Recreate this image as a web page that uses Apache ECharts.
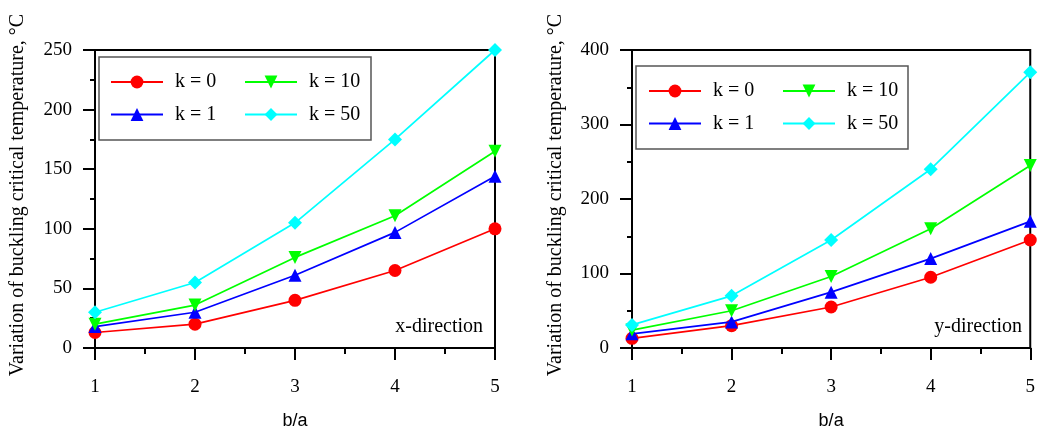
<!DOCTYPE html>
<html>
<head>
<meta charset="utf-8">
<script src="https://cdn.jsdelivr.net/npm/echarts@6/dist/echarts.min.js"></script>
<style>html,body{margin:0;padding:0;background:#fff}#c{width:1038px;height:436px}</style>
</head>
<body>
<div id="c"></div>
<script>
var xValues = [1, 2, 3, 4, 5];
var seriesNames = ['k = 0', 'k = 1', 'k = 10', 'k = 50'];
var xdir_k0 = [13, 20, 40, 65, 100];
var xdir_k1 = [18, 30, 61, 97, 144];
var xdir_k10 = [20, 36, 76, 111, 165];
var xdir_k50 = [30, 55, 105, 175, 250];
var ydir_k0 = [13, 30, 55, 95, 145];
var ydir_k1 = [19, 35, 75, 120, 170];
var ydir_k10 = [24, 50, 96, 160, 245];
var ydir_k50 = [31, 70, 145, 240, 370];
var xTicks = [1, 2, 3, 4, 5];
var yTicksLeft = [0, 50, 100, 150, 200, 250];
var yTicksRight = [0, 100, 200, 300, 400];
var yName = 'Variation of buckling critical temperature, \u00B0C';
var xName = 'b/a';
var panelLabels = ['x-direction', 'y-direction'];

var colors = ['#ff0000', '#0000ff', '#00ff00', '#00ffff'];
var symbols = ['circle', 'triangle', 'triangle', 'diamond'];
var rotates = [0, 0, 180, 0];
var sizes = [13, 13, 13, 14];
var serif = 'Liberation Serif';

function pairs(vals) { return xValues.map(function (x, i) { return [x, vals[i]]; }); }

function mkSeries(idx, data, axisIdx) {
  return {
    name: seriesNames[idx], type: 'line', xAxisIndex: axisIdx, yAxisIndex: axisIdx,
    data: pairs(data), symbol: symbols[idx], symbolRotate: rotates[idx], symbolSize: sizes[idx],
    clip: false, z: 3 + idx,
    lineStyle: { color: colors[idx], width: 1.7 },
    itemStyle: { color: colors[idx] }
  };
}

function mkX(gi) {
  return {
    type: 'value', gridIndex: gi, min: xTicks[0], max: xTicks[xTicks.length - 1], interval: 1,
    name: xName, nameLocation: 'middle', nameGap: 64,
    nameTextStyle: { fontFamily: 'Liberation Sans', fontSize: 18, color: '#000' },
    axisLine: { show: true, lineStyle: { color: '#000', width: 2 } },
    axisTick: { show: true, inside: false, length: 12, lineStyle: { color: '#000', width: 2 } },
    minorTick: { show: true, splitNumber: 2, length: 6, lineStyle: { color: '#000', width: 2 } },
    splitLine: { show: false }, minorSplitLine: { show: false },
    axisLabel: { margin: 30, fontFamily: serif, fontSize: 19, color: '#000' }
  };
}

function mkY(gi, ticks, gap) {
  return {
    type: 'value', gridIndex: gi, min: ticks[0], max: ticks[ticks.length - 1], interval: ticks[1] - ticks[0],
    name: yName, nameLocation: 'middle', nameRotate: 90, nameGap: gap,
    nameTextStyle: { fontFamily: serif, fontSize: 20, color: '#000', padding: [0, 0, 0, 8] },
    axisLine: { show: true, lineStyle: { color: '#000', width: 2 } },
    axisTick: { show: true, inside: false, length: 12, lineStyle: { color: '#000', width: 2 } },
    minorTick: { show: true, splitNumber: 2, length: 5, lineStyle: { color: '#000', width: 2 } },
    splitLine: { show: false }, minorSplitLine: { show: false },
    axisLabel: { margin: 23, fontFamily: serif, fontSize: 19, color: '#000' }
  };
}

function mkLegend(names, left, top) {
  return {
    data: names, orient: 'vertical', left: left, top: top, padding: 0, z: 10,
    itemWidth: 52, itemHeight: 16, itemGap: 12.5,
    textStyle: { fontFamily: serif, fontSize: 20, color: '#000', lineHeight: 20, padding: [0, 0, 0, 7] },
    selectedMode: false
  };
}

var option = {
  animation: false,
  backgroundColor: '#fff',
  grid: [
    { left: 95, top: 50, width: 400, height: 298, show: true, borderColor: '#000', borderWidth: 2 },
    { left: 632, top: 50, width: 399, height: 298, show: true, borderColor: '#000', borderWidth: 2 }
  ],
  xAxis: [mkX(0), mkX(1)],
  yAxis: [mkY(0, yTicksLeft, 67), mkY(1, yTicksRight, 66)],
  legend: [
    mkLegend([seriesNames[0], seriesNames[1]], 110, 72),
    mkLegend([seriesNames[2], seriesNames[3]], 244, 72),
    mkLegend([seriesNames[0], seriesNames[1]], 648, 81),
    mkLegend([seriesNames[2], seriesNames[3]], 782, 81)
  ],
  graphic: [
    { type: 'rect', shape: { x: 99, y: 57, width: 272, height: 83 }, style: { fill: '#fff', stroke: '#555', lineWidth: 1.5 }, z: 1 },
    { type: 'rect', shape: { x: 636, y: 66, width: 272, height: 83 }, style: { fill: '#fff', stroke: '#555', lineWidth: 1.5 }, z: 1 },
    { type: 'text', x: 483, y: 327, style: { text: panelLabels[0], font: '20px "Liberation Serif"', fill: '#000', textAlign: 'right', textVerticalAlign: 'middle' }, z: 60 },
    { type: 'text', x: 1022, y: 327, style: { text: panelLabels[1], font: '20px "Liberation Serif"', fill: '#000', textAlign: 'right', textVerticalAlign: 'middle' }, z: 60 }
  ],
  series: [
    mkSeries(0, xdir_k0, 0), mkSeries(1, xdir_k1, 0), mkSeries(2, xdir_k10, 0), mkSeries(3, xdir_k50, 0),
    mkSeries(0, ydir_k0, 1), mkSeries(1, ydir_k1, 1), mkSeries(2, ydir_k10, 1), mkSeries(3, ydir_k50, 1)
  ]
};
var chart = echarts.init(document.getElementById('c'), null, { renderer: 'canvas' });
chart.setOption(option);
</script>
</body>
</html>
